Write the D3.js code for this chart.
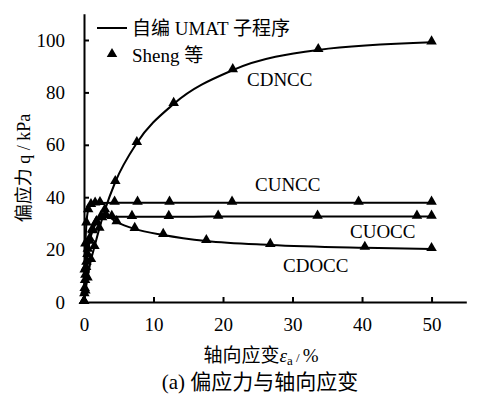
<!DOCTYPE html>
<html><head><meta charset="utf-8">
<script src="https://cdn.jsdelivr.net/npm/d3@7"></script>
<style>body{margin:0;background:#fff}svg{display:block}</style>
</head><body>
<svg id="c" width="478" height="399"></svg>
<script>
// ---- data ----
const seriesNames = ["CDNCC", "CUNCC", "CUOCC", "CDOCC"];
const cdnccStrain = [0, 0.2, 0.5, 1.0, 1.5, 2.2, 3.0, 4.5, 7.6, 12.9, 21.4, 33.7, 50];
const cdnccQ      = [0, 4, 9, 16, 21, 28, 35, 45.8, 60.7, 75.6, 88.5, 96.2, 99.1];
const cunccStrain = [0, 0.1, 0.2, 0.35, 0.6, 1.0, 1.6, 2.3, 4.4, 7.7, 12.3, 21.3, 39.5, 50];
const cunccQ      = [0, 12, 22, 30, 35, 37, 37.6, 37.8, 37.9, 37.9, 37.9, 37.9, 37.9, 37.9];
const cuoccStrain = [0, 0.1, 0.2, 0.35, 0.55, 0.8, 1.2, 1.8, 2.6, 4.0, 6.9, 12.2, 19.3, 33.6, 47.9, 50];
const cuoccQ      = [0, 5, 10, 15, 20, 24, 27.5, 30.5, 32.0, 32.5, 32.5, 32.5, 32.6, 32.6, 32.6, 32.6];
const cdoccStrain = [0, 0.05, 0.15, 0.3, 0.5, 0.8, 1.2, 1.7, 2.4, 3.2, 4.7, 7.3, 11.4, 17.6, 26.8, 40.4, 50];
const cdoccQ      = [0, 3, 8, 13, 18, 23, 27, 30, 32.3, 32.8, 30.5, 27.9, 25.6, 23.3, 21.8, 20.7, 20.2];
const xTicks = [0, 10, 20, 30, 40, 50];
const yTicks = [0, 20, 40, 60, 80, 100];
const legendLabels = ["自编 UMAT 子程序", "Sheng 等"];

const seriesData = [
  {name: seriesNames[0], x: cdnccStrain, y: cdnccQ},
  {name: seriesNames[1], x: cunccStrain, y: cunccQ},
  {name: seriesNames[2], x: cuoccStrain, y: cuoccQ},
  {name: seriesNames[3], x: cdoccStrain, y: cdoccQ}
];
const labelPos = {CDNCC: [247, 86], CUNCC: [255, 191], CUOCC: [350, 238], CDOCC: [283, 272]};

const FONT = "'Liberation Serif', 'Times New Roman', 'Noto Sans CJK SC', serif";
const svg = d3.select("#c");
const x = d3.scaleLinear().domain([0, 55]).range([84, 466.3]);
const y = d3.scaleLinear().domain([0, 110]).range([302, 13.8]);

// axes
const xAxis = d3.axisBottom(x).tickValues(xTicks).tickSize(-5).tickSizeOuter(0).tickPadding(16);
const yAxis = d3.axisLeft(y).tickValues(yTicks).tickSize(-5).tickSizeOuter(0).tickPadding(19);
const gx = svg.append("g").attr("transform", "translate(0,302)").call(xAxis);
const gy = svg.append("g").attr("transform", "translate(84,0)").call(yAxis);
[gx, gy].forEach(g => {
  g.select(".domain").attr("stroke", "#000").attr("stroke-width", 2);
  g.selectAll(".tick line").attr("stroke", "#000").attr("stroke-width", 2);
  g.selectAll(".tick text").attr("font-family", FONT).attr("font-size", 19).attr("fill", "#000");
});
gx.selectAll(".tick").filter(d => d === 0).select("line").remove();
gy.selectAll(".tick").filter(d => d === 0).select("line").remove();
gx.selectAll(".tick text").attr("dy", "0.71em");

// lines
const line = d3.line().x(d => x(d[0])).y(d => y(d[1])).curve(d3.curveMonotoneX);
const tri = d3.symbol().type(d3.symbolTriangle).size(48);
seriesData.forEach(s => {
  const pts = s.x.map((v, i) => [v, s.y[i]]);
  svg.append("path").attr("d", line(pts)).attr("fill", "none").attr("stroke", "#000").attr("stroke-width", 2);
  svg.append("g").selectAll("path").data(pts).join("path")
    .attr("d", tri).attr("transform", d => `translate(${x(d[0])},${y(d[1]) - 1})`).attr("fill", "#000");
  svg.append("text").attr("x", labelPos[s.name][0]).attr("y", labelPos[s.name][1])
    .attr("font-family", FONT).attr("font-size", 19).text(s.name);
});

// legend
svg.append("line").attr("x1", 97).attr("x2", 127).attr("y1", 28).attr("y2", 28).attr("stroke", "#000").attr("stroke-width", 2);
svg.append("text").attr("x", 132).attr("y", 35).attr("font-family", FONT).attr("font-size", 19).text(legendLabels[0]);
svg.append("path").attr("d", tri).attr("transform", "translate(112,54)").attr("fill", "#000");
svg.append("text").attr("x", 132).attr("y", 62).attr("font-family", FONT).attr("font-size", 19).text(legendLabels[1]);

// axis titles
const xt = svg.append("text").attr("x", 261).attr("y", 362).attr("text-anchor", "middle")
  .attr("font-family", FONT).attr("font-size", 19);
xt.append("tspan").text("轴向应变");
xt.append("tspan").attr("font-style", "italic").text("ε");
xt.append("tspan").attr("font-size", 13).attr("dy", 3).text("a");
xt.append("tspan").attr("font-size", 13).attr("dy", -3).text(" / ");
xt.append("tspan").text("%");

svg.append("text").attr("transform", "translate(30,168) rotate(-90)").attr("text-anchor", "middle")
  .attr("font-family", FONT).attr("font-size", 18).text("偏应力 q / kPa");

svg.append("text").attr("x", 260).attr("y", 389).attr("text-anchor", "middle")
  .attr("font-family", FONT).attr("font-size", 21).text("(a)  偏应力与轴向应变");
</script>
</body></html>
